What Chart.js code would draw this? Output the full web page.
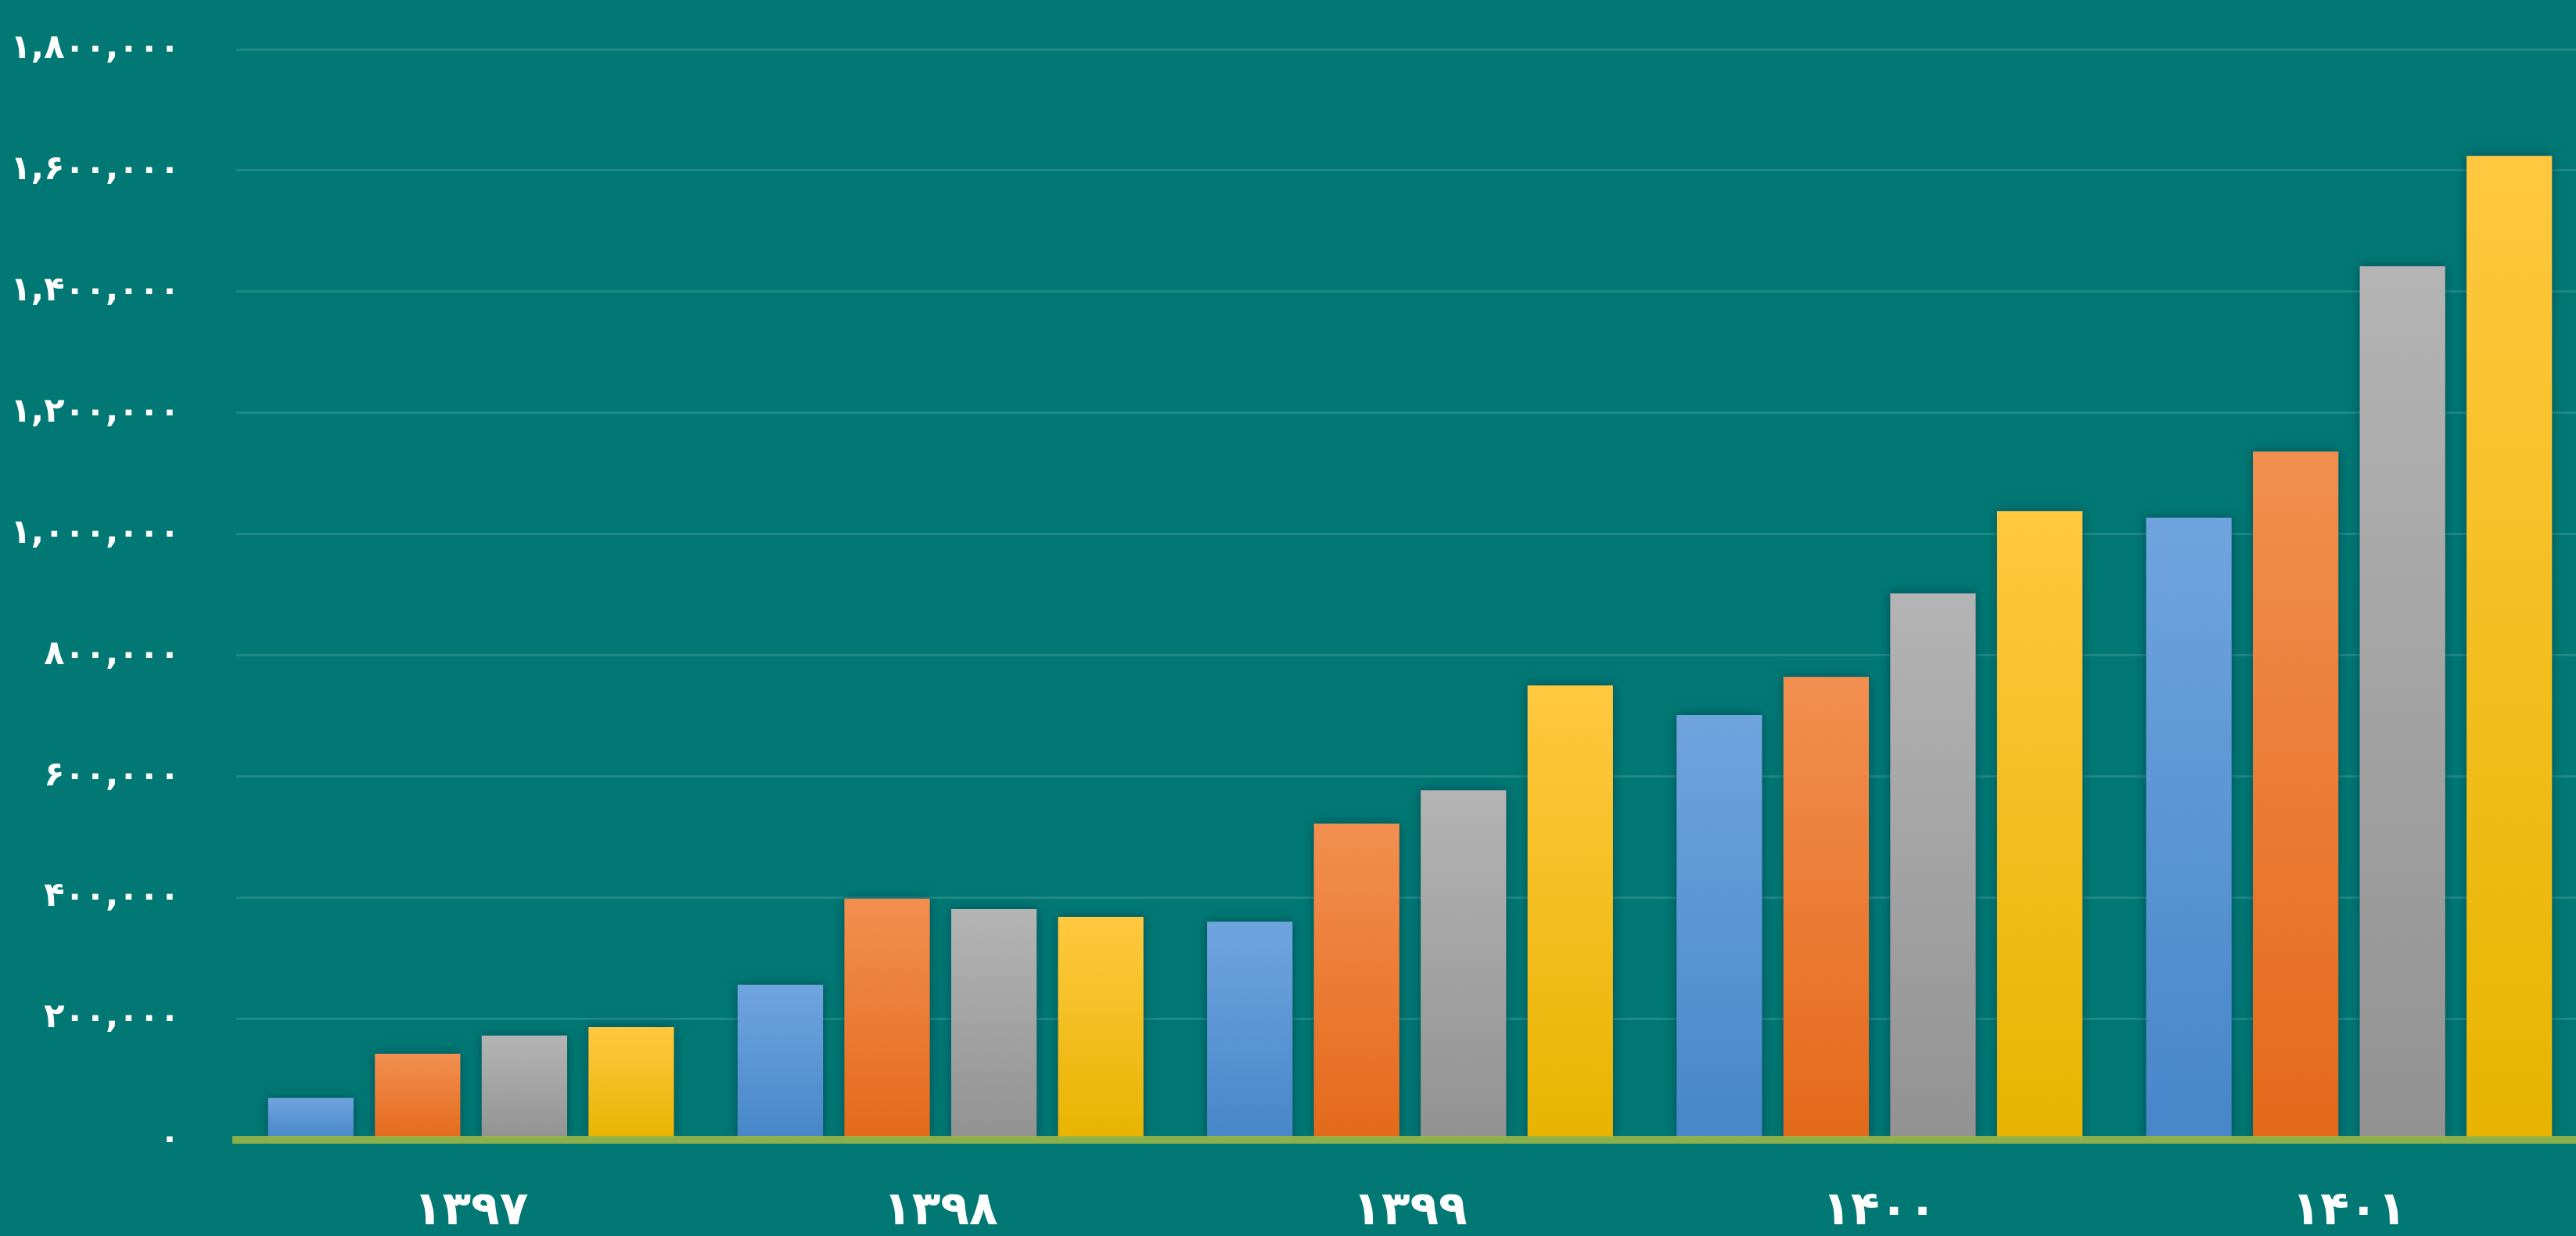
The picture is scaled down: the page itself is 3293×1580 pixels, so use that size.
<!DOCTYPE html>
<html>
<head>
<meta charset="utf-8">
<script src="https://cdn.jsdelivr.net/npm/chart.js@4"></script>
<style>
  html, body { margin: 0; padding: 0; background: #017873; overflow: hidden; }
  #wrap { width: 3303px; height: 1580px; }
</style>
</head>
<body>
<div id="wrap"><canvas id="barChart"></canvas></div>
<script>
/* global Chart */

let years = ["۱۳۹۷", "۱۳۹۸", "۱۳۹۹", "۱۴۰۰", "۱۴۰۱"];

let series1 = [69000, 256000, 360000, 701000, 1027000];
let series2 = [142000, 398000, 522000, 764000, 1136000];
let series3 = [172000, 381000, 577000, 902000, 1442000];
let series4 = [186000, 368000, 750000, 1038000, 1624000];

let yTicks = [0, 200000, 400000, 600000, 800000, 1000000, 1200000, 1400000, 1600000, 1800000];
let yTickLabels = ["۰", "۲۰۰,۰۰۰", "۴۰۰,۰۰۰", "۶۰۰,۰۰۰", "۸۰۰,۰۰۰", "۱,۰۰۰,۰۰۰", "۱,۲۰۰,۰۰۰", "۱,۴۰۰,۰۰۰", "۱,۶۰۰,۰۰۰", "۱,۸۰۰,۰۰۰"];

// light top -> dark bottom, one gradient per bar
function barFill(top, bottom) {
  return function (ctx) {
    const chart = ctx.chart;
    if (!chart.chartArea || ctx.type !== "data") return top;
    const yScale = chart.scales.y;
    const y0 = yScale.getPixelForValue(0);
    const y1 = yScale.getPixelForValue(ctx.raw);
    if (!isFinite(y1) || y1 === y0) return top;
    const g = chart.ctx.createLinearGradient(0, y1, 0, y0);
    g.addColorStop(0, top);
    g.addColorStop(1, bottom);
    return g;
  };
}

const barShadow = {
  id: "barShadow",
  beforeDatasetsDraw(chart) {
    const c = chart.ctx;
    c.save();
    c.shadowColor = "rgba(0, 45, 70, 0.55)";
    c.shadowBlur = 14;
    c.shadowOffsetX = 0;
    c.shadowOffsetY = 0;
  },
  afterDatasetsDraw(chart) {
    chart.ctx.restore();
  },
};

var ctx = document.getElementById("barChart").getContext("2d");
var barChart = new Chart(ctx, {
  type: "bar",
  data: {
    labels: years,
    datasets: [
      { label: "سری ۱", data: series1, backgroundColor: barFill("#70a4df", "#4686c9") },
      { label: "سری ۲", data: series2, backgroundColor: barFill("#f28f50", "#e4691a") },
      { label: "سری ۳", data: series3, backgroundColor: barFill("#b4b4b4", "#929292") },
      { label: "سری ۴", data: series4, backgroundColor: barFill("#ffc840", "#e8b400") },
    ],
  },
  options: {
    responsive: true,
    maintainAspectRatio: false,
    animation: false,
    layout: { padding: { top: 63, right: 0, bottom: 0, left: 0 } },
    datasets: {
      bar: { barPercentage: 0.8, categoryPercentage: 0.91 },
    },
    plugins: {
      legend: { display: false },
      tooltip: { enabled: false },
    },
    scales: {
      x: {
        grid: { display: false },
        border: { display: true, color: "rgba(150, 180, 70, 0.92)", width: 10, z: 1 },
        ticks: {
          color: "#ffffff",
          padding: 48,
          font: { family: "DejaVu Sans", size: 60, weight: "bold" },
        },
        afterFit: function (scale) {
          scale.height = 123;
        },
      },
      y: {
        min: 0,
        max: 1800000,
        afterBuildTicks: function (scale) {
          scale.ticks = yTicks.map((v) => ({ value: v }));
        },
        // invisible tick marks push the labels left without padding the top
        grid: { color: "#1f8a84", lineWidth: 3, drawTicks: true, tickLength: 72, tickColor: "rgba(0,0,0,0)" },
        border: { display: false },
        ticks: {
          color: "#ffffff",
          padding: 0,
          font: { family: "DejaVu Sans", size: 43, weight: "bold" },
          callback: function (value) {
            return yTickLabels[yTicks.indexOf(value)];
          },
        },
        afterFit: function (scale) {
          scale.width = 302;
        },
      },
    },
  },
  plugins: [barShadow],
});
</script>
</body>
</html>
